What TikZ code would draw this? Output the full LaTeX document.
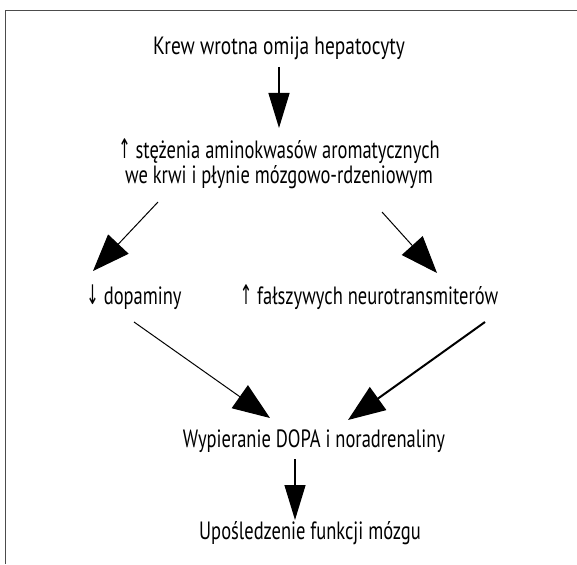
\documentclass[tikz,border=0pt]{standalone}
\usepackage{fontspec}
\setmainfont[FakeStretch=0.74]{PT Sans}
\newfontfamily\headfont[FakeStretch=0.775]{PT Sans}
\newfontfamily\arrowfont[FakeStretch=0.55]{DejaVu Sans}
\usetikzlibrary{arrows.meta,calc}
\newcommand{\upar}{{\arrowfont\fontsize{27}{25}\selectfont↑}}
\newcommand{\downar}{{\arrowfont\fontsize{27}{25}\selectfont↓}}
\begin{document}
\begin{tikzpicture}[x=1pt,y=-1pt,
  lbl/.style={font=\fontsize{25}{25}\selectfont, inner sep=0pt, align=center, text=black},
  arr/.style={-{Triangle[length=35pt,width=21pt]}, line width=1.3pt, black},
  thin arr/.style={-{Triangle[length=37pt,width=28pt]}, line width=1pt, black},
  bold arr/.style={-{Triangle[length=37pt,width=28pt]}, line width=2pt, black},
  frame/.style={line width=1.4pt, black!70}]
\useasboundingbox (0,0) rectangle (577,564);
% open frame: top and left edges only
\draw[frame] (577,10.5) -- (5.5,10.5) -- (5.5,564);

\node[lbl, font=\headfont\fontsize{25}{25}\selectfont] (krew) at (279,48) {Krew wrotna omija hepatocyty};
\node[lbl] (amino) at (279,164) {\upar{} stężenia aminokwasów aromatycznych\\we krwi i płynie mózgowo-rdzeniowym};
\node[lbl] (dopa)  at (134,297) {\downar{} dopaminy};
\node[lbl] (falsz) at (369,297) {\upar{} fałszywych neurotransmiterów};
\node[lbl] (wyp)   at (314,441) {Wypieranie DOPA i noradrenaliny};
\node[lbl] (upos)  at (310,533) {Upośledzenie funkcji mózgu};

\draw[arr]      ($(krew)+(0,19)$)     -- ($(amino)+(0,-36)$);
\draw[thin arr] ($(amino)+(-121,38)$) -- ($(dopa)+(-41,-26)$);
\draw[thin arr] ($(amino)+(103,48)$)  -- ($(falsz)+(68,-24)$);
\draw[thin arr] ($(dopa)+(0,25)$)     -- ($(wyp)+(-44,-23)$);
\draw[bold arr] ($(falsz)+(116,25)$)  -- ($(wyp)+(34,-21)$);
\draw[arr]      ($(wyp)+(-19,18)$)    -- ($(upos)+(-15,-13)$);
\end{tikzpicture}
\end{document}
